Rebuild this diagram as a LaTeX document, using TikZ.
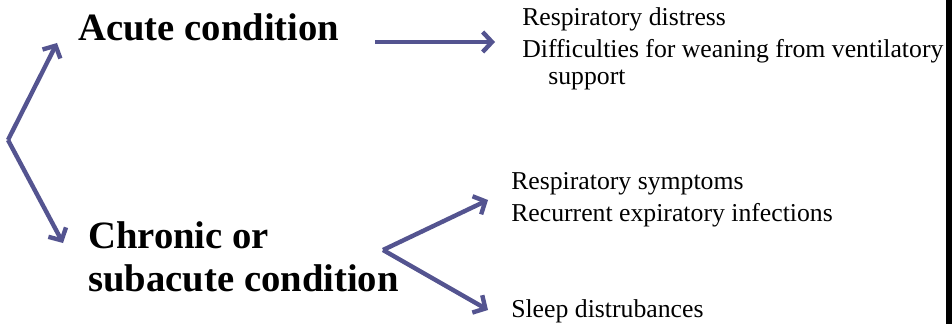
\documentclass[tikz,border=0pt]{standalone}
\usepackage{fontspec}
\setmainfont{Liberation Serif}
\usetikzlibrary{arrows.meta}
\definecolor{forkblue}{RGB}{84,84,144}

\begin{document}
\begin{tikzpicture}[x=0.75pt, y=-0.75pt,
				   >={Straight Barb[length=7pt, width=15pt]},
				   fork/.style={->, forkblue, line width=3.3pt},
				   heading/.style={anchor=base west, inner sep=0pt, font=\fontsize{29}{35}\selectfont\bfseries},
				   item/.style={anchor=base west, inner sep=0pt, font=\fontsize{19.3}{24}\selectfont}]
\useasboundingbox (0,0) rectangle (952,324);
\fill[black] (946,0) rectangle (952,324);
\node[heading] (acute) at (78,41) {Acute condition};
\node[heading] (chronic) at (88,248) {Chronic or};
\node[heading] (subacute) at (88,291) {subacute condition};
\node[item] (distress) at (522,26) {Respiratory distress};
\node[item] (weaning) at (522,58) {Difficulties for weaning from ventilatory};
\node[item] (support) at (548,85) {support};
\node[item] (symptoms) at (511,190) {Respiratory symptoms};
\node[item] (infections) at (511,221) {Recurrent expiratory infections};
\node[item] (sleep) at (511,317) {Sleep distrubances};
\coordinate (left fork) at (8,140);
\coordinate (acute tip) at (57,43);
\coordinate (chronic tip) at (63,243);
\coordinate (acute start) at (375,42);
\coordinate (acute end) at (495,42);
\coordinate (right fork) at (383,250);
\coordinate (symptoms tip) at (488,200);
\coordinate (sleep tip) at (488,310);
\draw[fork] (left fork) -- (acute tip);
\draw[fork] (left fork) -- (chronic tip);
\draw[fork] (acute start) -- (acute end);
\draw[fork] (right fork) -- (symptoms tip);
\draw[fork] (right fork) -- (sleep tip);
\end{tikzpicture}
\end{document}
